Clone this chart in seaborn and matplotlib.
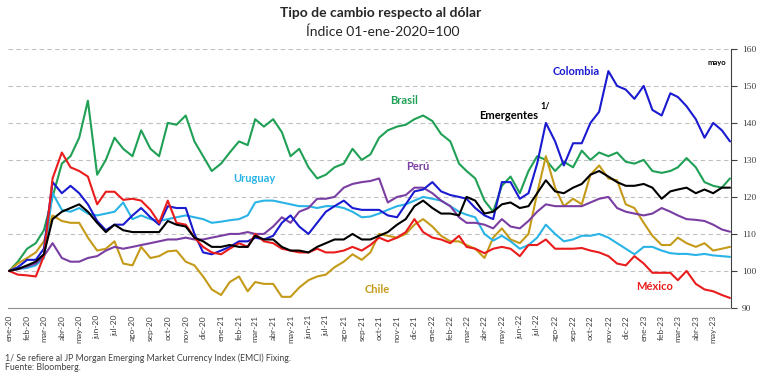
import pandas as pd
import matplotlib
matplotlib.use("Agg")
import matplotlib.pyplot as plt
import seaborn as sns

# fechas: 1 y 16 de cada mes, ene-2020 a may-2023, mas el ultimo dato
meses = ["ene", "feb", "mar", "abr", "may", "jun", "jul", "ago", "sep", "oct", "nov", "dic"]
inicio_mes = pd.date_range("2020-01-01", "2023-05-01", freq="MS")
fechas = sorted(list(inicio_mes) + list(inicio_mes + pd.Timedelta(days=15))) + [pd.Timestamp("2023-05-30")]

brasil = [100, 102.5, 106, 107.5, 111, 120, 129, 131, 136, 146,
          126, 130, 136, 133, 131, 138, 133, 131, 140, 139.5,
          142, 135, 131, 127, 129, 132, 135, 134, 141, 139,
          141, 137.5, 131, 133, 128, 125, 126, 128, 129, 133,
          130, 131.5, 136, 138, 139, 139.5, 141, 142, 140.5, 137,
          135, 129, 127, 125, 119, 116, 123, 125.5, 121, 127,
          131, 130, 127, 129.5, 128, 132.5, 130, 132, 131, 132,
          129.5, 129, 130, 127, 126.5, 127, 128, 130.5, 128, 124,
          123, 122.5, 125]
colombia = [100, 101, 103, 103, 106, 124, 121, 123, 121, 118,
            113.5, 111, 112.5, 112.5, 115, 117, 114.5, 112.5, 117.5, 117,
            117, 110, 105, 104.5, 105.5, 106.5, 108, 108, 109, 108.5,
            109.5, 113, 115, 112, 110, 113, 116, 117.5, 119, 117,
            116.5, 116.5, 116.5, 115, 114.5, 118, 121.5, 122, 124, 121.5,
            120.5, 120, 119.5, 117, 115, 114, 124, 124, 119.5, 121,
            129, 140, 135, 128.5, 134.5, 134.5, 140, 143, 154, 150,
            149, 146.5, 150, 143.5, 142, 148, 147, 144.5, 141, 136,
            140, 138, 135]
emergentes = [100, 100.5, 101.5, 102.5, 104.5, 114, 116, 117, 118, 116,
              113, 110.5, 112.5, 111, 110.5, 110.5, 110.5, 110.5, 113.5, 112.5,
              112, 109, 108, 106.5, 106.5, 107, 106.5, 106.5, 109.5, 108.5,
              108.5, 106.5, 105.5, 105.5, 105, 106.5, 107.5, 108.5, 108.5, 110,
              108.5, 108.5, 109.5, 110.5, 112.5, 114, 117.5, 119, 117, 115.5,
              115.5, 115, 120, 119, 115.5, 116, 118, 118.5, 117, 117.5,
              121, 124.5, 121.5, 121, 122.5, 123.5, 126, 127, 125.5, 124,
              123, 123, 123.5, 122.5, 119.5, 121.5, 122, 122.5, 121, 122,
              121, 122.5, 122.5]
peru = [100, 100.5, 101.2, 102, 104, 107.5, 103.5, 102.5, 102.5, 103.5,
        104, 105.5, 106.5, 106, 106.5, 107, 107.5, 108, 108.5, 108.5,
        109, 108.5, 108.5, 109, 109.5, 110, 110, 110.5, 110, 110,
        112, 114.5, 113, 116, 117, 119.5, 119.5, 120, 122.5, 123.5,
        124, 124.3, 125, 118.5, 120, 120.5, 122.5, 122.5, 121, 119,
        117.5, 114.5, 113, 113, 112.5, 111.5, 114, 112, 111.5, 113.5,
        116, 118, 117.5, 117.5, 117.5, 117.5, 118.5, 119.5, 120, 117,
        116, 115.5, 115, 115.5, 117, 116, 115, 114, 113.8, 113.5,
        112.5, 111.2, 110.6]
uruguay = [100, 100.5, 100.8, 101.5, 103.5, 121, 116.5, 116, 117, 115.5,
           115, 115.5, 116, 118.5, 114, 115, 114, 113.5, 114, 114.5,
           115, 114.5, 114, 113, 113.3, 113.7, 114, 115, 118.5, 119,
           119, 118.5, 118, 117.5, 117.5, 117, 117.5, 117.5, 117, 116,
           114.5, 114.7, 115.5, 116.5, 117.5, 118, 119, 120, 119.5, 119,
           117.5, 116, 115.2, 114.5, 110, 108.2, 109.5, 108, 106, 107,
           109, 112.5, 110, 108, 108.5, 109.5, 109.5, 110, 109, 107.5,
           106, 104.5, 106.5, 106.5, 105.5, 104.8, 104.6, 104.6, 104.3, 104.6,
           104.2, 104, 103.8]
chile = [100, 102, 103.5, 105, 108, 115, 113.5, 113, 113, 109,
         105.5, 106, 108, 102, 101.5, 106.5, 103.5, 104, 105.3, 105.5,
         102.5, 101.5, 98.5, 95, 93.5, 97, 98.5, 94.5, 97, 96.5,
         96.5, 93, 93, 95.5, 97.5, 98.5, 99, 101, 102.5, 104.5,
         103, 105, 110, 109.5, 109, 110, 112.5, 114, 112, 109.5,
         108, 108, 107, 106, 103.5, 109, 111.5, 108.5, 107.5, 110,
         121, 131, 122.5, 117.5, 119.5, 118, 126, 128.5, 125, 124.5,
         118, 117, 113, 109.5, 107, 107, 109, 107.5, 106.5, 107.5,
         105.5, 106, 106.5]
mexico = [100, 99, 98.8, 98.5, 104, 125, 132, 128, 127, 125.5,
          118, 121.4, 121.4, 119.2, 119.5, 119, 116.5, 113, 119, 113,
          112.5, 109, 106.5, 105, 104.5, 106, 107.5, 106.5, 110, 108,
          107.5, 106, 105.5, 105, 105, 106, 105, 105, 105.5, 106.5,
          105.5, 107, 109, 108, 109, 110.5, 114, 110.5, 109, 108.5,
          107.5, 109.5, 106.5, 106, 104.8, 106, 106.5, 106, 104, 107,
          107, 108.5, 106, 106, 106, 106.2, 105.5, 105, 104, 102,
          101.5, 104, 102, 99.5, 99.5, 99.5, 97.5, 100, 96.5, 95,
          94.5, 93.5, 92.7]

colores = {"Brasil": "#1fa055", "Chile": "#c49a18", "Uruguay": "#2ab4e6",
           "Perú": "#7a3ea3", "Colombia": "#1a1ad0", "México": "#ea1c1c",
           "Emergentes": "#000000"}
orden = ["Brasil", "Chile", "Uruguay", "Perú", "Colombia", "México", "Emergentes"]

df = pd.DataFrame({"fecha": fechas, "Brasil": brasil, "Colombia": colombia,
                   "Emergentes": emergentes, "Perú": peru, "Uruguay": uruguay,
                   "Chile": chile, "México": mexico})
largo = df.melt(id_vars="fecha", var_name="pais", value_name="indice")

sns.set_style("white")
plt.rcParams["font.family"] = ["Lato", "DejaVu Sans"]

fig = plt.figure(figsize=(7.68, 3.76), dpi=100)
ax = fig.add_axes([0.0104, 0.181, 0.9416, 0.689])
sns.lineplot(data=largo, x="fecha", y="indice", hue="pais", hue_order=orden,
             palette=colores, linewidth=1.5, legend=False, ax=ax)

ax.set_ylim(90, 160)
ax.set_yticks(range(90, 161, 10))
ax.yaxis.tick_right()
ax.yaxis.set_label_position("right")
for lab in ax.get_yticklabels():
    lab.set_family(["Liberation Serif"])
    lab.set_fontsize(6.8)
    lab.set_color("#404040")
ax.tick_params(axis="y", direction="out", length=4, width=0.8, color="#404040", pad=4)

ax.set_xlim(pd.Timestamp("2019-12-30"), pd.Timestamp("2023-06-01"))
ax.set_xticks(inicio_mes)
ax.set_xticklabels([f"{meses[d.month - 1]}-{d.strftime('%y')}" for d in inicio_mes],
                   rotation=90, fontsize=6, color="#404040")
ax.tick_params(axis="x", direction="out", length=3, width=0.8, color="#808080", pad=2)
ax.set_xlabel("")
ax.set_ylabel("")

ax.grid(False)
ax.yaxis.grid(True, linestyle=(0, (4, 3)), color="#c0c0c0", linewidth=0.8)
ax.set_axisbelow(True)
for s in ["top", "left"]:
    ax.spines[s].set_visible(False)
ax.spines["right"].set_color("#404040")
ax.spines["right"].set_linewidth(0.8)
ax.spines["bottom"].set_color("#909090")
ax.spines["bottom"].set_linewidth(0.8)

etiquetas = [("Colombia", "2022-09-07", 154.0),
             ("Brasil", "2021-11-13", 146.0),
             ("Emergentes", "2022-05-12", 142.0),
             ("Perú", "2021-12-06", 128.1),
             ("Uruguay", "2021-02-28", 125.1),
             ("Chile", "2021-09-28", 95.1),
             ("México", "2023-01-20", 95.8)]
for nombre, f, v in etiquetas:
    ax.text(pd.Timestamp(f), v, nombre, color=colores[nombre], fontsize=8,
            fontweight="bold", ha="center", va="center")
ax.text(pd.Timestamp("2022-07-15"), 144.6, "1/", fontsize=6.5, fontweight="bold",
        ha="center", va="center", color="black")
ax.text(pd.Timestamp("2023-05-07"), 156.3, "mayo", fontsize=5.5, fontweight="bold",
        ha="center", va="center", color="black")

fig.text(0.496, 0.965, "Tipo de cambio respecto al dólar", fontsize=10,
         fontweight="bold", ha="center", va="center", color="#262626")
fig.text(0.499, 0.915, "Índice 01-ene-2020=100", fontsize=10,
         ha="center", va="center", color="#262626")
fig.text(0.007, 0.047, "1/ Se refiere al JP Morgan Emerging Market Currency Index (EMCI) Fixing.",
         fontsize=6.3, ha="left", va="center", color="#404040")
fig.text(0.007, 0.022, "Fuente: Bloomberg.", fontsize=6.3, ha="left", va="center",
         color="#404040")

fig.savefig("out.png", dpi=100)
